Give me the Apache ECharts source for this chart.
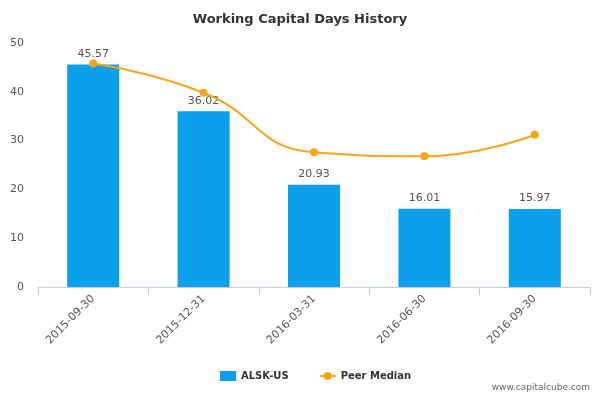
<!DOCTYPE html>
<html><head><meta charset="utf-8">
<script src="https://cdn.jsdelivr.net/npm/echarts@6/dist/echarts.min.js"></script>
<style>html,body{margin:0;padding:0;background:#fff}#c{width:600px;height:400px}</style>
</head><body><div id="c"></div>
<script>
const categories = ['2015-09-30','2015-12-31','2016-03-31','2016-06-30','2016-09-30'];
const alskValues = [45.57, 36.02, 20.93, 16.01, 15.97];
const peerMedian = [45.8, 39.8, 27.6, 26.8, 31.2];
const chart = echarts.init(document.getElementById('c'));
chart.setOption({
  animation: false,
  title: {text: 'Working Capital Days History', left: 'center', top: 8,
    textStyle: {fontFamily: 'DejaVu Sans', fontSize: 13, fontWeight: 'bold', color: '#333'}},
  grid: {left: 38, right: 10, top: 43, bottom: 113},
  legend: {bottom: 14, left: 215, itemGap: 30, itemWidth: 16, itemHeight: 10,
    textStyle: {fontFamily: 'DejaVu Sans', fontSize: 10, fontWeight: 'bold', color: '#333'},
    data: [{name: 'ALSK-US', icon: 'rect'}, {name: 'Peer Median'}]},
  graphic: [{type: 'text', right: 10, bottom: 8,
    style: {text: 'www.capitalcube.com', fontFamily: 'DejaVu Sans', fontSize: 9, fill: '#666'}}],
  xAxis: {type: 'category', data: categories,
    axisLine: {lineStyle: {color: '#c0d0e0'}}, axisTick: {show: true, lineStyle: {color: '#c0d0e0'}, length: 8},
    axisLabel: {rotate: 45, color: '#555', fontFamily: 'DejaVu Sans', fontSize: 11, margin: 10}},
  yAxis: {type: 'value', min: 0, max: 50, interval: 10,
    splitLine: {show: false}, axisLine: {show: false}, axisTick: {show: false},
    axisLabel: {color: '#555', fontFamily: 'DejaVu Sans', fontSize: 11, margin: 14}},
  series: [
    {name: 'ALSK-US', type: 'bar', data: alskValues, barWidth: 52,
      itemStyle: {color: '#0aa0ec'},
      label: {show: true, position: 'top', color: '#555', fontFamily: 'DejaVu Sans', fontSize: 11,
        formatter: p => p.value.toFixed(2)}},
    {name: 'Peer Median', type: 'line', data: peerMedian, smooth: 0.5,
      symbol: 'circle', symbolSize: 8, itemStyle: {color: '#f8a51c'}, lineStyle: {color: '#f8a51c', width: 2}}
  ]
});
</script></body></html>
